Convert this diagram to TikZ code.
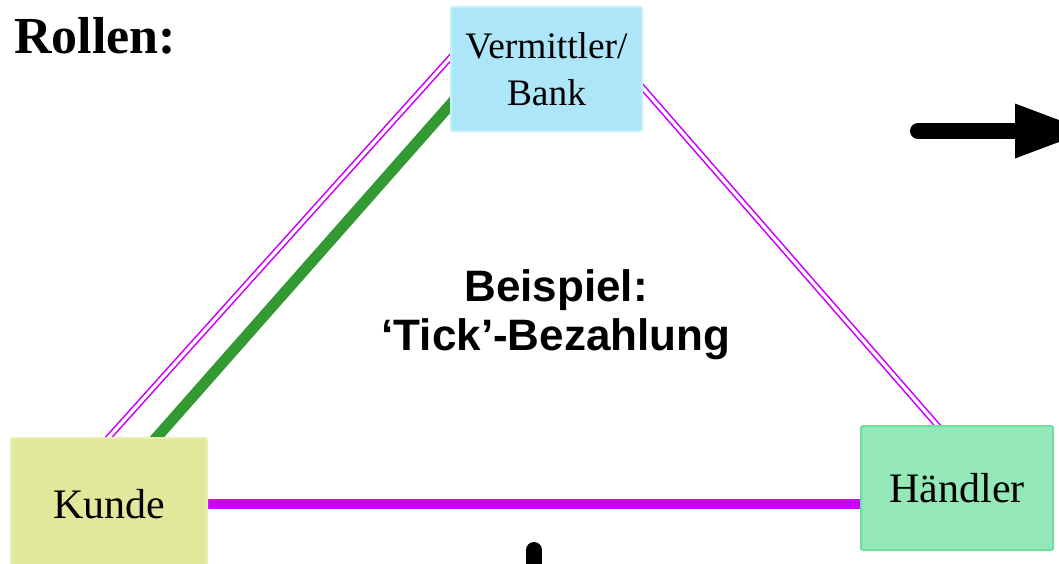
\documentclass[tikz,border=0pt]{standalone}
\usepackage{fontspec}
\setmainfont{Liberation Serif}
\setsansfont{Liberation Sans}
\usepackage{xcolor}
\usepackage{tikz}
\usetikzlibrary{arrows.meta, positioning, backgrounds}
\definecolor{bankblue}{RGB}{173,230,248}
\definecolor{bankedge}{RGB}{196,238,250}
\definecolor{kundeyellow}{RGB}{226,232,154}
\definecolor{kundeedge}{RGB}{234,238,176}
\definecolor{haendlergreen}{RGB}{148,232,184}
\definecolor{haendleredge}{RGB}{112,224,162}
\definecolor{paymagenta}{RGB}{204,0,255}
\definecolor{paygreen}{RGB}{51,153,51}

\begin{document}
\begin{tikzpicture}[x=0.5pt,y=-0.5pt,
        rolle/.style={rounded corners=1pt,line width=1pt,inner sep=0pt,align=center,
                      font=\fontsize{21}{24}\selectfont},
        doppel/.style={draw=paymagenta,double=white,line width=0.8pt,double distance=1.6pt,
                       shorten <=-6pt,shorten >=-6pt},
        fluss/.style={line width=8pt,line cap=round}]
      \useasboundingbox (0,0) rectangle (1059,563);
      \node[anchor=base west,inner sep=0pt,font=\bfseries\fontsize{26}{30}\selectfont] (rollen)
        at (14,53) {Rollen:};
      \node[rolle,fill=bankblue,draw=bankedge,minimum width=95.5pt,minimum height=62pt,
            font=\fontsize{18.7}{23.5}\selectfont] (bank) at (546.5,69) {Vermittler/\\Bank};
      \node[rolle,fill=kundeyellow,draw=kundeedge,minimum width=98pt,minimum height=66pt] (kunde)
        at (109,504) {Kunde};
      \node[rolle,fill=haendlergreen,draw=haendleredge,minimum width=96pt,minimum height=62pt] (haendler)
        at (957,488) {Händler};
      \node[font=\sffamily\bfseries\fontsize{22}{24.5}\selectfont,align=center,inner sep=0pt] (beispiel)
        at (556,315) {Beispiel:\\‘Tick’-Bezahlung};
      \begin{scope}[on background layer]
        \draw[doppel] (kunde.north) -- ([yshift=5.5pt]bank.west);
        \draw[paygreen,line width=5.5pt,shorten <=-6pt,shorten >=-6pt]
          ([xshift=24pt]kunde.north) -- ([yshift=-18pt]bank.west);
        \draw[doppel] ([yshift=-9.5pt]bank.east) -- ([xshift=-10pt]haendler.north);
        \draw[paymagenta,line width=5pt] (kunde) -- (kunde -| haendler);
      \end{scope}
      \coordinate (pfeilstart) at (918,131);
      \coordinate (pfeilspitze) at (1088,131);
      \draw[fluss,-{Triangle[length=36.5pt,width=27.5pt,line width=0pt]}] (pfeilstart) -- (pfeilspitze);
      \coordinate (untenstart) at (534,550);
      \coordinate (untenende) at (534,620);
      \draw[fluss] (untenstart) -- (untenende);
    \end{tikzpicture}
\end{document}
